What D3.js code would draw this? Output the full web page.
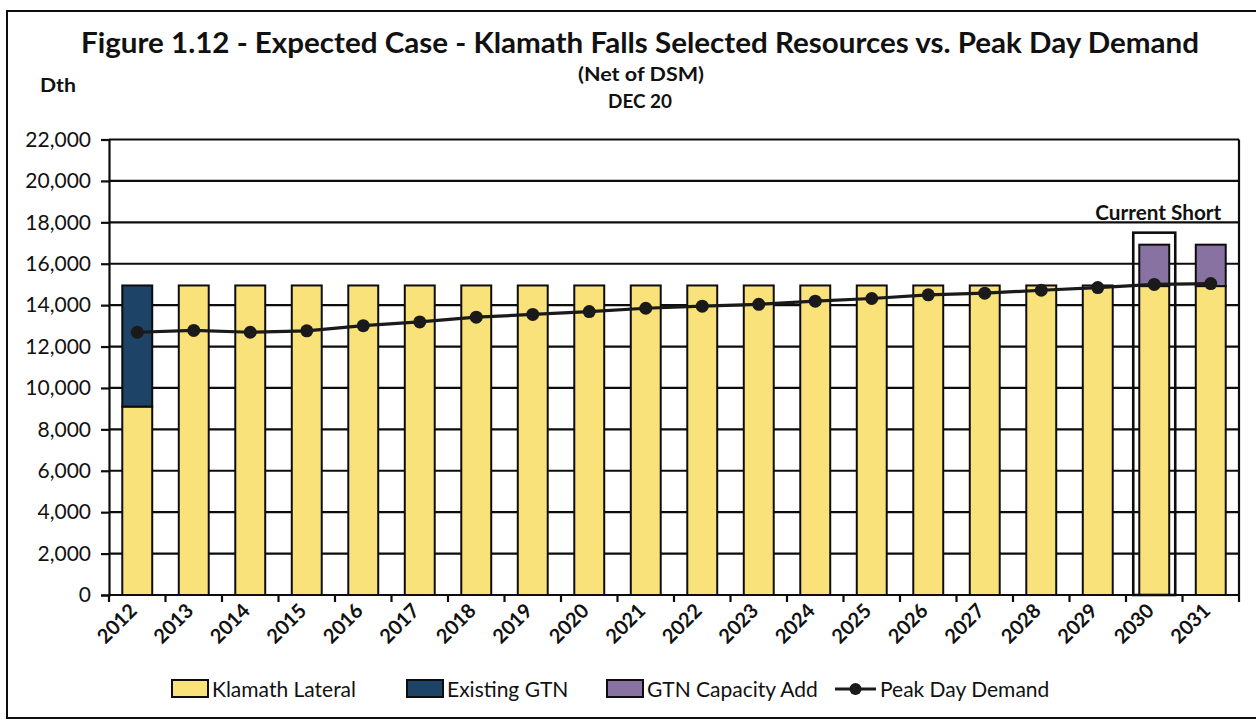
<!DOCTYPE html>
<html>
<head>
<meta charset="utf-8">
<script src="https://cdn.jsdelivr.net/npm/d3@7"></script>
<style>
  html, body { margin: 0; padding: 0; background: #fff; }
  svg { display: block; }
  text { font-family: Lato, "Open Sans", "DejaVu Sans", sans-serif; fill: #111; }
</style>
</head>
<body>
<svg id="chart" width="1256" height="721"></svg>
<script>
// ---------- DATA ----------
const years = ["2012","2013","2014","2015","2016","2017","2018","2019","2020","2021",
               "2022","2023","2024","2025","2026","2027","2028","2029","2030","2031"];
const klamathLateral = [9100,14950,14950,14950,14950,14950,14950,14950,14950,14950,
                        14950,14950,14950,14950,14950,14950,14950,14950,14920,14920];
const existingGTN    = [5850,0,0,0,0,0,0,0,0,0,0,0,0,0,0,0,0,0,0,0];
const gtnCapacityAdd = [0,0,0,0,0,0,0,0,0,0,0,0,0,0,0,0,0,0,2000,2000];
const peakDayDemand  = [12690,12780,12690,12760,13010,13190,13420,13550,13690,13850,
                        13950,14040,14190,14320,14500,14580,14720,14850,15000,15040];
const yTickValues = [0,2000,4000,6000,8000,10000,12000,14000,16000,18000,20000,22000];
const seriesNames = ["Klamath Lateral","Existing GTN","GTN Capacity Add","Peak Day Demand"];
const shortYear = "2030";
const shortBoxTop = 17500;
const shortLabel = "Current Short";

// ---------- LAYOUT ----------
const plot = { left: 109, right: 1239, top: 139.5, bottom: 595 };
const colors = { klamath: "#FAE27A", gtn: "#1D4366", add: "#8872A2", line: "#1a1a1a" };
const ink = "#0d0d0d";

const svg = d3.select("#chart");

// outer frame
svg.append("rect").attr("x", 7).attr("y", 11).attr("width", 1262).attr("height", 707)
  .attr("fill", "none").attr("stroke", ink).attr("stroke-width", 2);

const x = d3.scaleBand().domain(years).range([plot.left, plot.right]).paddingInner(0.47).paddingOuter(0.235);
const y = d3.scaleLinear().domain([0, 22000]).range([plot.bottom, plot.top]);

// titles
svg.append("text").attr("x", 640).attr("y", 53).attr("text-anchor", "middle")
  .attr("font-size", 29).attr("font-weight", 700)
  .attr("textLength", 1118).attr("lengthAdjust", "spacingAndGlyphs")
  .text("Figure 1.12 - Expected Case - Klamath Falls Selected Resources vs. Peak Day Demand");
svg.append("text").attr("x", 641).attr("y", 81).attr("text-anchor", "middle")
  .attr("font-size", 18).attr("font-weight", 700)
  .attr("textLength", 126).attr("lengthAdjust", "spacingAndGlyphs")
  .text("(Net of DSM)");
svg.append("text").attr("x", 640).attr("y", 108).attr("text-anchor", "middle")
  .attr("font-size", 19).attr("font-weight", 700)
  .attr("textLength", 64).attr("lengthAdjust", "spacingAndGlyphs")
  .text("DEC 20");
svg.append("text").attr("x", 40).attr("y", 92)
  .attr("font-size", 19).attr("font-weight", 700)
  .attr("textLength", 36).attr("lengthAdjust", "spacingAndGlyphs")
  .text("Dth");

// gridlines
svg.append("g").selectAll("line").data(yTickValues).join("line")
  .attr("x1", plot.left).attr("x2", plot.right)
  .attr("y1", d => y(d)).attr("y2", d => y(d))
  .attr("stroke", ink).attr("stroke-width", 2.2);

// y axis
const yAxis = d3.axisLeft(y).tickValues(yTickValues).tickSize(8).tickPadding(10)
  .tickFormat(d3.format(","));
const gy = svg.append("g").attr("transform", `translate(${plot.left},0)`).call(yAxis);
gy.select(".domain").attr("stroke", ink).attr("stroke-width", 2.2);
gy.selectAll(".tick line").attr("stroke", ink).attr("stroke-width", 2.2);
gy.selectAll(".tick text").attr("font-size", 21).attr("font-family", "Lato, 'Open Sans', sans-serif").attr("fill", "#111");

// right border
svg.append("line").attr("x1", plot.right).attr("x2", plot.right)
  .attr("y1", plot.top).attr("y2", plot.bottom).attr("stroke", ink).attr("stroke-width", 2.2);

// stacked bars
const rows = years.map((yr, i) => ({ year: yr, klamath: klamathLateral[i], gtn: existingGTN[i], add: gtnCapacityAdd[i] }));
const stack = d3.stack().keys(["klamath", "gtn", "add"]);
const layers = stack(rows);
svg.append("g").selectAll("g").data(layers).join("g")
  .attr("fill", d => colors[d.key])
  .selectAll("rect").data(d => d.filter(s => s[1] - s[0] > 0)).join("rect")
  .attr("x", d => x(d.data.year))
  .attr("width", x.bandwidth())
  .attr("y", d => y(d[1]))
  .attr("height", d => y(d[0]) - y(d[1]))
  .attr("stroke", ink).attr("stroke-width", 2);

// x axis (ticks at band boundaries)
const step = x.step();
const boundaries = years.map(yr => x(yr) - (step - x.bandwidth()) / 2).concat([plot.right]);
svg.append("line").attr("x1", plot.left).attr("x2", plot.right)
  .attr("y1", plot.bottom).attr("y2", plot.bottom).attr("stroke", ink).attr("stroke-width", 2.2);
svg.append("g").selectAll("line").data(boundaries).join("line")
  .attr("x1", d => d).attr("x2", d => d)
  .attr("y1", plot.bottom).attr("y2", plot.bottom + 7)
  .attr("stroke", ink).attr("stroke-width", 2.2);
svg.append("g").selectAll("text").data(years).join("text")
  .attr("transform", d => `translate(${x(d) + x.bandwidth() / 2 + 1},${plot.bottom + 17}) rotate(-45)`)
  .attr("text-anchor", "end").attr("font-size", 20).attr("font-weight", 700)
  .text(d => d);

// current short box
const bx = x(shortYear) + x.bandwidth() / 2;
svg.append("rect")
  .attr("x", bx - 21).attr("y", y(shortBoxTop))
  .attr("width", 42).attr("height", y(0) - y(shortBoxTop))
  .attr("fill", "none").attr("stroke", ink).attr("stroke-width", 2.6);
svg.append("text").attr("x", bx + 4).attr("y", y(shortBoxTop) - 13)
  .attr("text-anchor", "middle").attr("font-size", 21).attr("font-weight", 700)
  .attr("font-family", "'Liberation Sans Narrow', 'Liberation Sans', Roboto, sans-serif")
  .attr("textLength", 126).attr("lengthAdjust", "spacingAndGlyphs")
  .text(shortLabel);

// peak demand line
const line = d3.line().x((d, i) => x(years[i]) + x.bandwidth() / 2).y(d => y(d));
svg.append("path").datum(peakDayDemand).attr("d", line)
  .attr("fill", "none").attr("stroke", colors.line).attr("stroke-width", 3.2);
svg.append("g").selectAll("circle").data(peakDayDemand).join("circle")
  .attr("cx", (d, i) => x(years[i]) + x.bandwidth() / 2).attr("cy", d => y(d))
  .attr("r", 6.5).attr("fill", colors.line);

// legend
const legendItems = [
  { name: seriesNames[0], type: "rect", color: colors.klamath, x: 172 },
  { name: seriesNames[1], type: "rect", color: colors.gtn, x: 407 },
  { name: seriesNames[2], type: "rect", color: colors.add, x: 607 },
  { name: seriesNames[3], type: "line", color: colors.line, x: 835 }
];
const lg = svg.append("g");
legendItems.forEach(it => {
  if (it.type === "rect") {
    lg.append("rect").attr("x", it.x).attr("y", 680).attr("width", 36).attr("height", 17)
      .attr("fill", it.color).attr("stroke", ink).attr("stroke-width", 2);
    lg.append("text").attr("x", it.x + 40).attr("y", 697).attr("font-size", 21).text(it.name);
  } else {
    lg.append("line").attr("x1", it.x).attr("x2", it.x + 41).attr("y1", 689).attr("y2", 689)
      .attr("stroke", it.color).attr("stroke-width", 3.2);
    lg.append("circle").attr("cx", it.x + 20.5).attr("cy", 689).attr("r", 6).attr("fill", it.color);
    lg.append("text").attr("x", it.x + 45).attr("y", 697).attr("font-size", 21).text(it.name);
  }
});
</script>
</body>
</html>
